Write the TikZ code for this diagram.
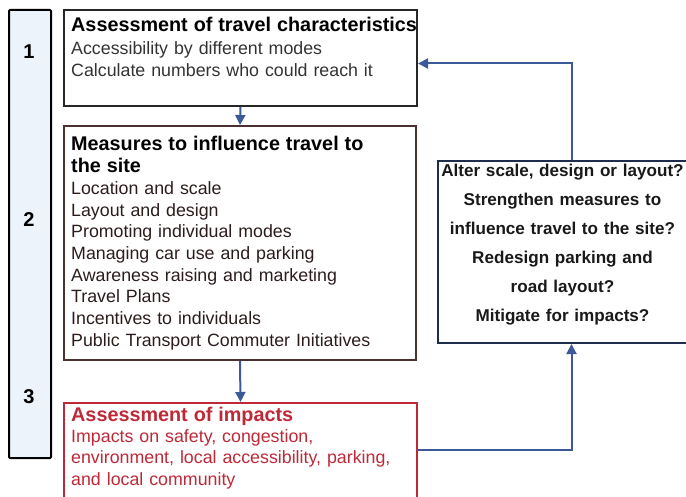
\documentclass[tikz,border=0pt]{standalone}
\usepackage{fontspec}
\setmainfont{Liberation Sans}
\usetikzlibrary{arrows.meta, positioning}
\definecolor{flowblue}{RGB}{61,90,152}
\definecolor{impactred}{RGB}{190,40,55}
\definecolor{maroon}{RGB}{74,48,48}
\definecolor{navy}{RGB}{31,45,77}
\definecolor{stagefill}{RGB}{236,243,250}

\begin{document}
\begin{tikzpicture}[
	x=1pt, y=-1pt,
	box/.style = {draw, line width=2pt, rectangle, inner sep=0pt, anchor=north west},
	txt/.style = {inner sep=0pt, align=left, anchor=base west, text=black!80},
	num/.style = {font=\fontsize{20}{24}\selectfont\bfseries},
	flow/.style = {draw=flowblue, line width=2pt, -{Triangle[length=10pt,width=10pt]}}
     ]
		\useasboundingbox (0,0) rectangle (686,497);
%
		\node[box, fill=stagefill, rounded corners=1pt, minimum width=42pt, minimum height=448pt] (stages) at (8,9) {};
		\node[num] (n1) at (29,52) {1};
		\node[num] (n2) at (29,220) {2};
		\node[num] (n3) at (29,397) {3};
%
		\node[box, draw=black!85, minimum width=353pt, minimum height=96pt] (assess) at (63,9) {};
		\node[box, draw=maroon, minimum width=352pt, minimum height=234pt] (measures) at (63,125) {};
		\node[box, draw=impactred, minimum width=353pt, minimum height=110pt] (impacts) at (63,402) {};
		\node[box, draw=navy, minimum width=253pt, minimum height=182pt] (revise) at (437,160) {};
%
		\node[txt, text width=360pt, font=\fontsize{17.8}{22.5}\selectfont]
		(assesstxt) at ([shift={(8,23)}] assess.north west)
		{{\fontsize{19.8}{22}\selectfont\bfseries\color{black} Assessment of travel characteristics}\\
		 Accessibility by different modes\\
		 Calculate numbers who could reach it};
%
		\node[txt, text width=340pt, font=\fontsize{17.8}{21.7}\selectfont, text=maroon!60!black]
		(measurestxt) at ([shift={(8,26)}] measures.north west)
		{{\fontsize{19.8}{21.7}\selectfont\bfseries\color{black} Measures to influence travel to\\ the site}\\
		 Location and scale\\
		 Layout and design\\
		 Promoting individual modes\\
		 Managing car use and parking\\
		 Awareness raising and marketing\\
		 Travel Plans\\
		 Incentives to individuals\\
		 Public Transport Commuter Initiatives};
%
		\node[txt, text width=345pt, font=\fontsize{17.8}{21.2}\selectfont, text=impactred]
		(impactstxt) at ([shift={(8,19.5)}] impacts.north west)
		{{\fontsize{19.8}{21.2}\selectfont\bfseries Assessment of impacts}\\
		 Impacts on safety, congestion,\\
		 environment, local accessibility, parking,\\
		 and local community};
%
		\node[inner sep=0pt, align=center, anchor=base, text width=246pt, text=black!90,
		      font=\fontsize{17.1}{28.9}\selectfont\bfseries]
		(revisetxt) at ([shift={(-2,17)}] revise.north)
		{Alter scale, design or layout?\\
		 Strengthen measures to\\
		 influence travel to the site?\\
		 Redesign parking and\\
		 road layout?\\
		 Mitigate for impacts?};
%
		\draw[flow] (assess.south) -- (measures.north);
		\draw[flow] (measures.south) -- (impacts.north);
		\draw[flow] ([yshift=8pt] impacts.east) -| ([xshift=7pt] revise.south);
		\draw[flow] ([xshift=7pt] revise.north) |- ([yshift=-5.5pt] assess.east);
\end{tikzpicture}
\end{document}
